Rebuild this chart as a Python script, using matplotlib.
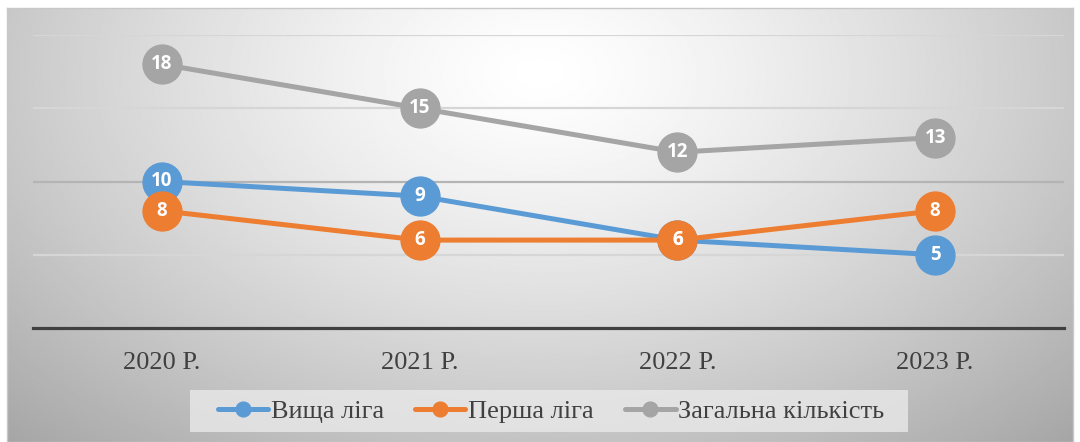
import numpy as np
import matplotlib
matplotlib.use("Agg")
import matplotlib.pyplot as plt
from matplotlib.patches import Rectangle

years = ["2020 Р.", "2021 Р.", "2022 Р.", "2023 Р."]
vyshcha = [10, 9, 6, 5]
persha = [8, 6, 6, 8]
zahalna = [18, 15, 12, 13]
series_names = ["Вища ліга", "Перша ліга", "Загальна кількість"]
colors = ["#5b9bd5", "#ed7d31", "#a5a5a5"]

W, H = 1080, 442
fig = plt.figure(figsize=(W / 100, H / 100), dpi=100)
fig.patch.set_facecolor("white")

# radial gray gradient behind the chart
bg = fig.add_axes([7 / W, 0, (1073 - 7) / W, (H - 8) / H])
yy, xx = np.mgrid[0:1:300j, 0:1:700j]
r = np.sqrt(((xx - 0.5) / 0.6) ** 2 + ((yy - 0.15) / 0.95) ** 2)
shade = 1.0 - 0.27 * np.clip(r, 0, 1.25) ** 1.3
bg.imshow(shade, cmap="gray", vmin=0, vmax=1, aspect="auto",
          extent=[0, 1, 1, 0], interpolation="bilinear")
bg.set_xticks([])
bg.set_yticks([])
for s in bg.spines.values():
    s.set_color("#c8c8c8")
    s.set_linewidth(1.0)

# legend box drawn on the background axes (wider padding than legend frame)
bg.add_patch(Rectangle((190 / W, (H - 432) / H), (908 - 190) / W, 42 / H,
                       transform=fig.transFigure, facecolor="#e9e9e9",
                       edgecolor="none", alpha=0.8, clip_on=False))

ax = fig.add_axes([33 / W, (H - 328) / H, (1064 - 33) / W, (328 - 35) / H])
ax.set_facecolor("none")
x = np.arange(len(years))

for vals, name, c in zip([vyshcha, persha, zahalna], series_names, colors):
    ax.plot(x, vals, color=c, lw=3.6, marker="o", ms=28, label=name,
            solid_capstyle="round", zorder=3)
    for xi, v in zip(x, vals):
        ax.text(xi, v, str(v), ha="center", va="center", color="white",
                fontsize=13.5, fontweight="bold", family="Open Sans", zorder=4)

ax.set_xlim(-0.5, len(years) - 0.5)
ax.set_ylim(0, 20)
ax.set_yticks([0, 5, 10, 15, 20])
ax.set_yticklabels([])
ax.grid(axis="y", color="#d6d6d6", lw=1.6, zorder=0)
ax.get_ygridlines()[2].set_color("#b4b4b4")
ax.set_xticks(x)
ax.set_xticklabels(years, family="Liberation Serif", fontsize=19,
                   color="#404040")
ax.tick_params(length=0, pad=17)
for side in ["top", "left", "right"]:
    ax.spines[side].set_visible(False)
ax.spines["bottom"].set_color("#404040")
ax.spines["bottom"].set_linewidth(2.3)

leg = ax.legend(loc="center", bbox_to_anchor=(551 / W, 31 / H),
                bbox_transform=fig.transFigure, ncol=3, frameon=False,
                markerscale=0.38, handlelength=1.9,
                handletextpad=0.1, columnspacing=1.2,
                prop={"family": "Liberation Serif", "size": 19})
for t in leg.get_texts():
    t.set_color("#404040")

fig.savefig("out.png", dpi=100)
